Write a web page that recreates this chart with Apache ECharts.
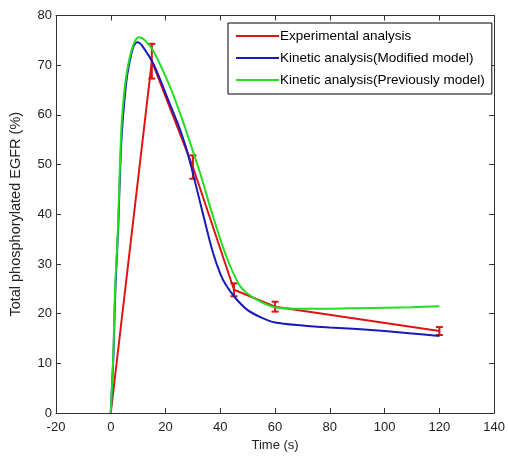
<!DOCTYPE html>
<html>
<head>
<meta charset="utf-8">
<script src="https://cdn.jsdelivr.net/npm/echarts@6/dist/echarts.min.js"></script>
<style>
html,body{margin:0;padding:0;background:#fff;}
#chart{width:508px;height:457px;}
</style>
</head>
<body>
<div id="chart"></div>
<script>
// ---- data ----
const xTicks = [-20, 0, 20, 40, 60, 80, 100, 120, 140];
const yTicks = [0, 10, 20, 30, 40, 50, 60, 70, 80];

const expTime = [0, 15, 30, 45, 60, 120];
const expMean = [0, 70.8, 49.5, 24.8, 21.4, 16.5];
const expErr  = [0, 3.5, 2.35, 1.3, 1.0, 0.8];

const modTime = [0, 0.5, 1, 1.5, 2, 2.7, 3, 3.5, 4, 5, 6, 7.4, 8.5, 9.8, 12, 15.8, 21.7, 25, 27.7, 30.1, 33.7, 37.2, 40, 42, 45.6, 50, 55, 60, 70, 80, 90, 100, 110, 120];
const modVals = [0, 6, 12, 22, 29, 37, 42, 50, 56, 63, 68, 72, 74, 74.6, 73.5, 70.0, 62.0, 57.5, 53.0, 48.0, 40.0, 32.5, 28.0, 25.8, 23.1, 20.7, 19.2, 18.2, 17.6, 17.2, 16.9, 16.5, 16.0, 15.5];

const prevTime = [0, 0.5, 1, 1.5, 2, 2.7, 3, 3.5, 4, 5, 6, 7.4, 9, 10.4, 12.5, 15.8, 21.7, 25, 27.7, 32.5, 37.2, 42, 46.8, 50, 55, 60, 70, 80, 90, 100, 110, 120];
const prevVals = [0, 6, 13, 24, 30, 38, 44, 52, 58.5, 65, 69, 72.6, 75, 75.6, 75.0, 72.6, 65.6, 60.8, 56.5, 48.5, 39.8, 31.8, 25.9, 24.0, 22.3, 21.3, 21.0, 21.0, 21.1, 21.2, 21.3, 21.5];

const seriesNames = ['Experimental analysis', 'Kinetic analysis(Modified model)', 'Kinetic analysis(Previously model)'];
const colors = ['#dd1414', '#1a1ab8', '#22dd22'];

// ---- build ----
const zip = (a, b) => a.map((v, i) => [v, b[i]]);
const errData = expTime.map((t, i) => [t, expMean[i] - expErr[i], expMean[i] + expErr[i]]).filter((d, i) => expErr[i] > 0);

const FONT = 'Liberation Sans, Arial, sans-serif';
const axisColor = '#333';
const tickStyle = {show: true, inside: true, length: 5, lineStyle: {color: axisColor}};
const lineStyleAxis = {show: true, onZero: false, lineStyle: {color: axisColor, width: 1}};

const chart = echarts.init(document.getElementById('chart'), null, {renderer: 'canvas'});
chart.setOption({
  animation: false,
  backgroundColor: '#fff',
  grid: {left: 50, right: 10.5, top: 15.5, bottom: 44, containLabel: false},
  legend: {
    data: seriesNames,
    orient: 'vertical',
    left: 228, top: 23,
    backgroundColor: '#fff',
    borderColor: '#000', borderWidth: 1, borderRadius: 0,
    padding: [6, 7, 7, 8],
    icon: 'rect',
    itemWidth: 43, itemHeight: 2, itemGap: 8,
    textStyle: {fontFamily: FONT, fontSize: 13.5, color: '#000', lineHeight: 14, padding: [0, 0, 0, -4]}
  },
  xAxis: [{
    type: 'value', min: xTicks[0], max: xTicks[xTicks.length - 1], interval: 20,
    name: 'Time (s)', nameLocation: 'middle', nameGap: 23,
    nameTextStyle: {fontFamily: FONT, fontSize: 13, color: '#222'},
    axisLine: lineStyleAxis, axisTick: tickStyle,
    axisLabel: {fontFamily: FONT, fontSize: 13, color: '#222', margin: 8},
    splitLine: {show: false}
  }, {
    type: 'value', position: 'top', min: xTicks[0], max: xTicks[xTicks.length - 1], interval: 20,
    axisLine: lineStyleAxis, axisTick: tickStyle,
    axisLabel: {show: false}, splitLine: {show: false}
  }],
  yAxis: [{
    type: 'value', min: yTicks[0], max: yTicks[yTicks.length - 1], interval: 10,
    name: 'Total phosphorylated EGFR (%)', nameLocation: 'middle', nameGap: 33, nameRotate: 90,
    nameTextStyle: {fontFamily: FONT, fontSize: 14.5, color: '#222'},
    axisLine: lineStyleAxis, axisTick: tickStyle,
    axisLabel: {fontFamily: FONT, fontSize: 13, color: '#222', margin: 4},
    splitLine: {show: false}
  }, {
    type: 'value', position: 'right', min: yTicks[0], max: yTicks[yTicks.length - 1], interval: 10,
    axisLine: lineStyleAxis, axisTick: tickStyle,
    axisLabel: {show: false}, splitLine: {show: false}
  }],
  series: [{
    name: seriesNames[0], type: 'line', data: zip(expTime, expMean),
    xAxisIndex: 0, yAxisIndex: 0,
    symbol: 'none', lineStyle: {color: colors[0], width: 2}, itemStyle: {color: colors[0]}, z: 2
  }, {
    name: 'errbars', type: 'custom', data: errData, xAxisIndex: 0, yAxisIndex: 0, z: 2,
    renderItem: function (params, api) {
      const x = api.value(0);
      const lo = api.coord([x, api.value(1)]);
      const hi = api.coord([x, api.value(2)]);
      const hw = 3.5;
      const st = {stroke: colors[0], lineWidth: 2, fill: null};
      return {type: 'group', children: [
        {type: 'line', shape: {x1: lo[0], y1: lo[1], x2: hi[0], y2: hi[1]}, style: st},
        {type: 'line', shape: {x1: lo[0] - hw, y1: lo[1], x2: lo[0] + hw, y2: lo[1]}, style: st},
        {type: 'line', shape: {x1: hi[0] - hw, y1: hi[1], x2: hi[0] + hw, y2: hi[1]}, style: st}
      ]};
    }
  }, {
    name: seriesNames[1], type: 'line', data: zip(modTime, modVals), smooth: 0.3,
    xAxisIndex: 0, yAxisIndex: 0,
    symbol: 'none', lineStyle: {color: colors[1], width: 2}, itemStyle: {color: colors[1]}, z: 3
  }, {
    name: seriesNames[2], type: 'line', data: zip(prevTime, prevVals), smooth: 0.3,
    xAxisIndex: 0, yAxisIndex: 0,
    symbol: 'none', lineStyle: {color: colors[2], width: 2}, itemStyle: {color: colors[2]}, z: 4
  }]
});
</script>
</body>
</html>
